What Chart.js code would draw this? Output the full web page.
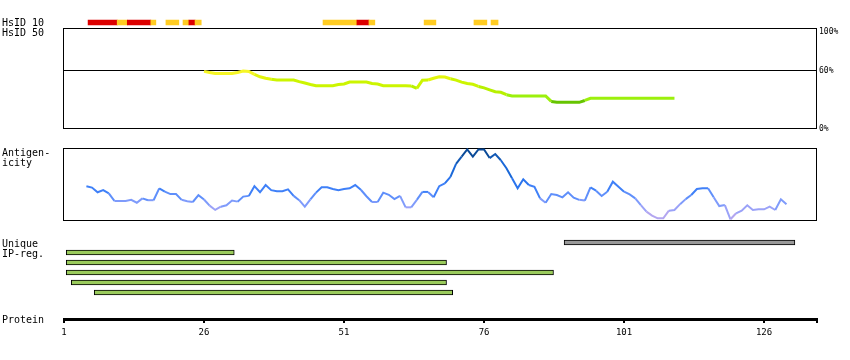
<!DOCTYPE html>
<html><head><meta charset="utf-8">
<script src="https://cdn.jsdelivr.net/npm/chart.js@4"></script>
<style>
html,body{margin:0;padding:0;background:#fff;}
#wrap{position:relative;width:850px;height:360px;overflow:hidden;background:#fff;}
canvas{position:absolute;left:0;}
.lbl{position:absolute;left:2px;font-family:"DejaVu Sans Mono",monospace;font-size:10px;line-height:10px;color:#000;white-space:pre;}
</style></head><body>
<div id="wrap">
  <canvas id="cId" style="top:0;width:850px;height:140px" width="850" height="140"></canvas>
  <canvas id="cHs" style="top:0;width:850px;height:40px" width="850" height="40"></canvas>
  <canvas id="cAg" style="top:140px;width:850px;height:90px" width="850" height="90"></canvas>
  <canvas id="cIp" style="top:230px;width:850px;height:70px" width="850" height="70"></canvas>
  <canvas id="cPr" style="top:300px;width:850px;height:50px" width="850" height="50"></canvas>
  <div class="lbl" style="top:18px">HsID 10</div>
  <div class="lbl" style="top:28px">HsID 50</div>
  <div class="lbl" style="top:147.5px">Antigen-</div>
  <div class="lbl" style="top:157.5px">icity</div>
  <div class="lbl" style="top:239px">Unique</div>
  <div class="lbl" style="top:249px">IP-reg.</div>
  <div class="lbl" style="top:314.5px">Protein</div>
</div>
<script>
// ---------------- data ----------------
const proteinTicks = [1, 26, 51, 76, 101, 126];
const residueAxisEnd = 135.45;
const identityTicks = [0, 60, 100];

// HsID 10 conserved stretches (residue start / end, identity level)
const hsidRows = ['HsID 10', 'HsID 50'];
const hsid10Starts = [5.3, 10.5, 12.3, 16.5, 19.2, 22.25, 23.3, 24.4, 47.25, 53.3, 55.45, 65.3, 74.2, 77.25];
const hsid10Ends   = [10.5, 12.3, 16.5, 17.4, 21.5, 23.3, 24.4, 25.5, 53.3, 55.45, 56.5, 67.4, 76.5, 78.5];
const hsid10Levels = ['high','mid','high','mid','mid','mid','high','mid','mid','high','mid','mid','mid','mid'];

// Identity (%) along the protein
const identityResidues = [];
for (let r = 26; r <= 110; r++) identityResidues.push(r);
const identityValues = [
  59.1, 58, 57, 57, 57, 57, 58, 59.5, 59, 56,
  53.5, 52, 51, 50.2, 50.2, 50.2, 50.2, 48.5, 47, 45.5,
  44.3, 44.3, 44.3, 44.3, 45.5, 46, 48, 48, 48, 48,
  46.5, 46, 44.3, 44.3, 44.3, 44.3, 44.3, 44, 41.5, 50,
  50.2, 52, 53.6, 53.2, 51.5, 50, 48, 46.5, 45.7, 43.5,
  42, 40, 38, 37.5, 35, 33.6, 33.6, 33.6, 33.6, 33.6,
  33.6, 33.6, 28, 27.1, 27.1, 27.1, 27.1, 27.1, 29, 31.2,
  31.2, 31.2, 31.2, 31.2, 31.2, 31.2, 31.2, 31.2, 31.2, 31.2,
  31.2, 31.2, 31.2, 31.2, 31.2
];

// Antigenicity along the protein
const antigenResidues = [];
for (let r = 5; r <= 130; r++) antigenResidues.push(r);
const antigenValues = [
  47, 45, 38.5, 41.5, 37, 26.5, 26.5, 26.5, 28, 24,
  30, 27.5, 27.5, 44, 39.5, 36, 36, 28, 26, 25,
  34.5, 28.5, 20, 14, 18.5, 20.5, 27, 25.5, 32.5, 33.5,
  47, 38.5, 48.5, 41.5, 40, 40, 42.5, 33.5, 27.5, 18.5,
  28.5, 38, 45.5, 45.5, 43, 41.5, 43, 44, 48.5, 42,
  33, 25, 25, 38, 35, 29, 33.5, 17.6, 17.6, 28,
  39, 39, 31.5, 47, 51, 60, 78, 88, 98, 88,
  98, 98, 86, 91.7, 83, 72, 58, 44, 56.5, 48.6,
  46, 30, 24, 36, 34.7, 31.5, 38.4, 31, 28, 27,
  45.4, 40.7, 33.3, 39.3, 53.2, 46.3, 39.3, 35.5, 30.1, 20.8,
  11.6, 6, 2.3, 2.3, 13, 13.9, 22, 29, 34.7, 43,
  44, 44, 31.5, 19.4, 20.8, 1, 9.3, 13, 20.4, 13.9,
  14.8, 14.8, 18.5, 13.9, 28.7, 21.8
];

// Unique IP-regions
const ipRows = ['row0', 'row1', 'row2', 'row3', 'row4', 'row5'];
const ipStarts = [90.3, 1.4, 1.4, 1.4, 2.3, 6.4];
const ipEnds   = [131.5, 31.4, 69.3, 88.4, 69.3, 70.4];
const ipKinds  = ['other', 'unique', 'unique', 'unique', 'unique', 'unique'];

// ---------------- styling helpers ----------------
const MONO = '"DejaVu Sans Mono", monospace';
Chart.defaults.font.family = MONO;
Chart.defaults.color = '#000';
Chart.defaults.animation = false;

function identityColor(v) {
  if (v >= 56) return '#f6f626';
  if (v >= 51) return '#e2f50c';
  if (v >= 43) return '#ccf500';
  if (v >= 36) return '#b8f000';
  if (v >= 30) return '#9cf00c';
  return '#66c400';
}
function antigenColor(v) {
  if (v >= 92) return '#0a4a98';
  if (v >= 80) return '#1258b4';
  if (v >= 65) return '#1a68d8';
  if (v >= 50) return '#2a74ee';
  if (v >= 38) return '#3f80f8';
  if (v >= 28) return '#5f8ffb';
  if (v >= 18) return '#7f9bfb';
  if (v >= 9)  return '#9ba2f8';
  return '#b3a6f0';
}
const hsidColors = { high: '#dd0000', mid: '#ffcc22' };
const ipColors = { unique: '#9acb5c', other: '#999999' };

const boxPlugin = {
  id: 'box',
  beforeDatasetsDraw(chart, args, opts) {
    const { ctx, chartArea: a } = chart;
    ctx.save();
    ctx.strokeStyle = '#000';
    ctx.lineWidth = 1;
    const x0 = Math.round(a.left) - 0.5, x1 = Math.round(a.right) - 0.5;
    const y0 = Math.floor(a.top) + 0.5, y1 = Math.floor(a.bottom) + 0.5;
    ctx.strokeRect(x0, y0, x1 - x0, y1 - y0);
    if (opts && opts.refValue !== undefined) {
      const y = Math.floor(chart.scales.y.getPixelForValue(opts.refValue)) + 0.5;
      ctx.beginPath(); ctx.moveTo(x0, y); ctx.lineTo(x1, y); ctx.stroke();
    }
    ctx.restore();
  }
};

const hiddenX = { type: 'linear', min: 1, max: residueAxisEnd, display: false };

// ---------------- HsID chart ----------------
new Chart(document.getElementById('cHs'), {
  type: 'bar',
  data: {
    labels: hsidRows,
    datasets: [{
      data: hsid10Starts.map((s, i) => ({ x: [s, hsid10Ends[i]], y: hsidRows[0] })),
      backgroundColor: hsid10Levels.map(l => hsidColors[l]),
      borderWidth: 0,
      barThickness: 5
    }]
  },
  options: {
    indexAxis: 'y', responsive: false,
    layout: { padding: { left: 64, right: 33, top: 17.5, bottom: 2.5 } },
    plugins: { legend: { display: false }, tooltip: { enabled: false } },
    scales: { x: hiddenX, y: { type: 'category', display: false } }
  }
});

// ---------------- Identity chart ----------------
new Chart(document.getElementById('cId'), {
  type: 'line',
  data: {
    datasets: [{
      data: identityResidues.map((r, i) => ({ x: r, y: identityValues[i] })),
      borderWidth: 3,
      pointRadius: 0,
      tension: 0,
      borderColor: '#ccf500',
      segment: { borderColor: c => identityColor((c.p0.parsed.y + c.p1.parsed.y) / 2) }
    }]
  },
  options: {
    responsive: false,
    layout: { padding: { left: 64, right: 0, top: 28.5, bottom: 11.5 } },
    plugins: { legend: { display: false }, tooltip: { enabled: false }, box: { refValue: 60 } },
    scales: {
      x: hiddenX,
      y: {
        position: 'right', min: 0, max: 103.45,
        afterBuildTicks: s => { s.ticks = identityTicks.map(v => ({ value: v })); },
        afterFit: s => { s.width = 33; },
        grid: { display: false, drawTicks: false },
        border: { display: false },
        ticks: { font: { family: MONO, size: 8 }, color: '#000', padding: 2, callback: v => v + '%' }
      }
    }
  },
  plugins: [boxPlugin]
});

// ---------------- Antigenicity chart ----------------
new Chart(document.getElementById('cAg'), {
  type: 'line',
  data: {
    datasets: [{
      data: antigenResidues.map((r, i) => ({ x: r, y: antigenValues[i] })),
      borderWidth: 2,
      pointRadius: 0,
      tension: 0,
      borderColor: '#3f80f8',
      segment: { borderColor: c => antigenColor((c.p0.parsed.y + c.p1.parsed.y) / 2) }
    }]
  },
  options: {
    responsive: false,
    layout: { padding: { left: 64, right: 33, top: 8, bottom: 10 } },
    plugins: { legend: { display: false }, tooltip: { enabled: false } },
    scales: { x: hiddenX, y: { min: 0, max: 100, display: false } }
  },
  plugins: [boxPlugin]
});

// ---------------- Unique IP-region chart ----------------
new Chart(document.getElementById('cIp'), {
  type: 'bar',
  data: {
    labels: ipRows,
    datasets: [{
      data: ipStarts.map((s, i) => ({ x: [s, ipEnds[i]], y: ipRows[i] })),
      backgroundColor: ipKinds.map(k => ipColors[k]),
      borderColor: '#000',
      borderWidth: 1,
      borderSkipped: false,
      barThickness: 5
    }]
  },
  options: {
    indexAxis: 'y', responsive: false,
    layout: { padding: { left: 64, right: 33, top: 7.5, bottom: 2.5 } },
    plugins: { legend: { display: false }, tooltip: { enabled: false } },
    scales: { x: hiddenX, y: { type: 'category', display: false } }
  }
});

// ---------------- Protein axis ----------------
new Chart(document.getElementById('cPr'), {
  type: 'line',
  data: { datasets: [{ data: [], pointRadius: 0 }] },
  options: {
    responsive: false,
    layout: { padding: { left: 64, right: 33, top: 10, bottom: 0 } },
    plugins: { legend: { display: false }, tooltip: { enabled: false } },
    scales: {
      x: {
        type: 'linear', position: 'bottom', min: 1, max: residueAxisEnd,
        afterBuildTicks: s => { s.ticks = proteinTicks.concat([residueAxisEnd]).map(v => ({ value: v })); },
        afterFit: s => { s.height = 31; },
        grid: { drawOnChartArea: false, drawTicks: true, tickLength: 4, lineWidth: 2, color: '#000' },
        border: { display: true, width: 3, color: '#000' },
        ticks: {
          font: { family: MONO, size: 9 }, color: '#000', padding: 4,
          maxRotation: 0, autoSkip: false,
          callback: v => proteinTicks.includes(v) ? String(v) : ''
        }
      },
      y: { display: false, min: 0, max: 1 }
    }
  }
});
</script>
</body></html>
